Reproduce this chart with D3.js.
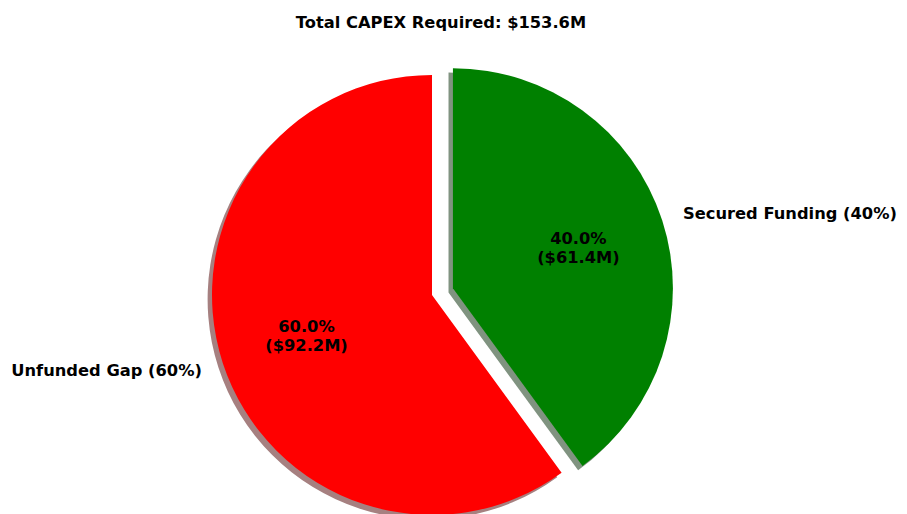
<!DOCTYPE html>
<html>
<head>
<meta charset="utf-8">
<script src="https://cdn.jsdelivr.net/npm/d3@7"></script>
<style>
  body { margin: 0; background: #fff; }
  text { font-family: "DejaVu Sans", sans-serif; font-weight: bold; }
</style>
</head>
<body>
<div id="chart"></div>
<script>
// Data
var labels = ["Secured Funding (40%)", "Unfunded Gap (60%)"];
var amounts = [61.4, 92.2];
var colors = ["#008000", "#ff0000"];
var shadowColors = ["#809380", "#a68080"];
var explode = [0.1, 0];
var title = "Total CAPEX Required: $153.6M";

// Dimensions
var svgWidth = 907;
var svgHeight = 514;
var cx = 432, cy = 295, radius = 220;
var fontSize = 16.3;

var svg = d3.select("#chart")
  .append("svg")
  .attr("width", svgWidth)
  .attr("height", svgHeight);

var total = d3.sum(amounts);

var pie = d3.pie().sort(null).value(d => d)(amounts);
var arc = d3.arc().innerRadius(0).outerRadius(radius);

function offset(d, i) {
  var mid = (d.startAngle + d.endAngle) / 2;
  var e = explode[i] * radius;
  return [Math.sin(mid) * e, -Math.cos(mid) * e];
}

var chartGroup = svg.append("g")
  .attr("transform", `translate(${cx}, ${cy})`);

// Shadows first
chartGroup.selectAll(".shadow")
  .data(pie)
  .enter()
  .append("path")
  .attr("class", "shadow")
  .attr("d", arc)
  .attr("fill", (d, i) => shadowColors[i])
  .attr("transform", (d, i) => {
    var o = offset(d, i);
    return `translate(${o[0] - 4.4}, ${o[1] + 4.4})`;
  });

// Wedges
chartGroup.selectAll(".wedge")
  .data(pie)
  .enter()
  .append("path")
  .attr("class", "wedge")
  .attr("d", arc)
  .attr("fill", (d, i) => colors[i])
  .attr("transform", (d, i) => {
    var o = offset(d, i);
    return `translate(${o[0]}, ${o[1]})`;
  });

// Outer labels
chartGroup.selectAll(".label")
  .data(pie)
  .enter()
  .append("text")
  .attr("class", "label")
  .attr("font-size", fontSize)
  .each(function(d, i) {
    var mid = (d.startAngle + d.endAngle) / 2;
    var o = offset(d, i);
    var x = o[0] + Math.sin(mid) * radius * 1.1;
    var y = o[1] - Math.cos(mid) * radius * 1.1;
    d3.select(this)
      .attr("x", x)
      .attr("y", y)
      .attr("dy", "0.35em")
      .attr("text-anchor", x > 0 ? "start" : "end")
      .text(labels[i]);
  });

// Percentage labels
chartGroup.selectAll(".pct")
  .data(pie)
  .enter()
  .append("text")
  .attr("class", "pct")
  .attr("font-size", fontSize)
  .attr("text-anchor", "middle")
  .each(function(d, i) {
    var mid = (d.startAngle + d.endAngle) / 2;
    var o = offset(d, i);
    var x = o[0] + Math.sin(mid) * radius * 0.6;
    var y = o[1] - Math.cos(mid) * radius * 0.6;
    var t = d3.select(this);
    t.append("tspan").attr("x", x).attr("y", y - 9.5).attr("dy", "0.35em")
      .text((amounts[i] / total * 100).toFixed(1) + "%");
    t.append("tspan").attr("x", x).attr("y", y + 9.5).attr("dy", "0.35em")
      .text("($" + amounts[i].toFixed(1) + "M)");
  });

// Title
svg.append("text")
  .attr("x", 441)
  .attr("y", 28)
  .attr("text-anchor", "middle")
  .attr("font-size", fontSize)
  .text(title);
</script>
</body>
</html>
